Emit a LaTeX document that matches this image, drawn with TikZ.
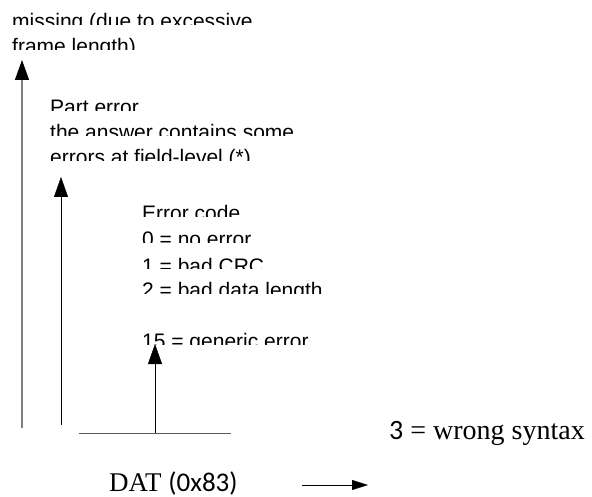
\documentclass[tikz,border=0pt]{standalone}
\usepackage{fontspec}
\setmainfont{Liberation Serif}
\setsansfont{Liberation Sans}
\newfontfamily\calfont{Carlito}
\usetikzlibrary{arrows.meta}

\begin{document}
\begin{tikzpicture}[x=1pt,y=-1pt,
  note/.style={anchor=base west,inner sep=0pt,font=\sffamily\fontsize{21}{25}\selectfont},
  label/.style={anchor=base west,inner sep=0pt,font=\rmfamily\fontsize{28}{32}\selectfont},
  up/.style={-{Triangle[length=20pt,width=14pt,color=black]}},
  ]
\useasboundingbox (0,0) rectangle (592,497);

% captions, every line cut off just above its baseline
\foreach \x/\y/\t [count=\i] in {12/29/missing (due to excessive, 12/54/frame length),
    50/115/Part error, 50/140/the answer contains some, 50/165/errors at field-level (*),
    142/221/Error code, 142/247/0 = no error, 142/273/1 = bad CRC,
    142/298/2 = bad data length, 142/348/15 = generic error}
{
  \begin{scope}
    \clip (0,\y-30) rectangle (592,\y-4);
    \node[note] (line\i) at (\x,\y) {\t};
  \end{scope}
}

\node[label] (syntax) at (389,439) {{\calfont 3} = wrong syntax};
\node[label,font=\rmfamily\fontsize{27}{31}\selectfont] (dat) at (109,491) {DAT {\calfont (0x83)}};

\coordinate (tip1) at (22,60);
\coordinate (foot1) at (22,428);
\coordinate (tip2) at (61,177);
\coordinate (foot2) at (61,425);
\coordinate (barL) at (79,433);
\coordinate (barR) at (231,433);
\coordinate (bar) at (155,433);
\coordinate (tip3) at (155,344);
\coordinate (outL) at (302,485);
\coordinate (outR) at (368,485);

\draw[gray,line width=1.2pt,up] (foot1) -- (tip1);
\draw[up] (foot2) -- (tip2);
\draw[up] (bar) -- (tip3);
\draw[gray!70!black] (barL) -- (barR);
\draw[-{Triangle[length=16pt,width=10pt]}] (outL) -- (outR);
\end{tikzpicture}
\end{document}
